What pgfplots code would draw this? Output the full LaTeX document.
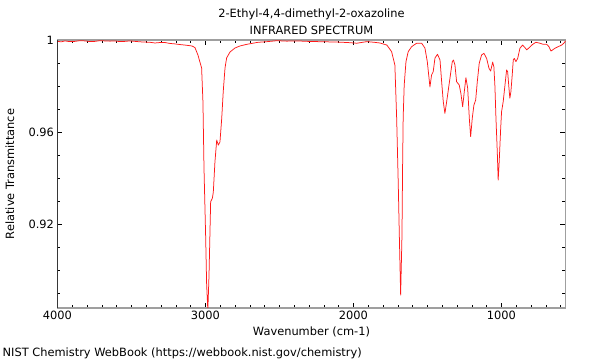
\documentclass[border=0pt]{standalone}
\usepackage{fontspec}
\setmainfont{DejaVu Sans}
\usepackage{pgfplots}
\pgfplotsset{compat=1.18}
\begin{document}
\begin{tikzpicture}[font=\fontsize{11.4bp}{13bp}\selectfont]
\useasboundingbox (0,0) rectangle (600bp,360bp);
\begin{axis}[
  scale only axis, width=508bp, height=268bp,
  at={(57.5bp,52bp)}, anchor=south west,
  x dir=reverse, xmin=567, xmax=4000, ymin=0.8835, ymax=1.0,
  xtick={1000,2000,3000,4000}, minor xtick={600,700,...,3900},
  ytick={0.92,0.96,1}, minor ytick={0.89,0.90,...,0.995},
  yticklabels={0.92,0.96,1},
  /pgf/number format/assume math mode=true,
  /pgf/number format/set thousands separator={},
  tick align=inside, tick style={black, line width=0.6bp},
  major tick length=5bp, minor tick length=3bp,
  axis line style={draw=gray!75, line width=1.3bp},
  xlabel={Wavenumber (cm-1)}, ylabel={Relative Transmittance},
  xlabel style={at={(axis description cs:0.5,0)}, anchor=center, yshift=-24bp},
  ylabel style={at={(axis description cs:0,0.5)}, anchor=center, yshift=47.5bp},
  title style={align=center, at={(axis description cs:0.5,1)}, anchor=south, yshift=-4bp},
  title={2-Ethyl-4,4-dimethyl-2-oxazoline\\[3.5bp]INFRARED SPECTRUM},
  clip=true,
]
\addplot[color=red!90!white, line width=0.75bp, line join=round] coordinates {
(4000,0.9994) (3975,0.9992) (3949,0.9996) (3920,0.9993) (3882,0.9994) (3850,0.9997) (3814,0.9996)
(3780,0.9993) (3747,0.9994) (3715,0.9997) (3679,0.9996) (3645,0.9995) (3611,0.9996) (3580,0.9993)
(3544,0.9994) (3510,0.9996) (3476,0.9994) (3440,0.9992) (3409,0.9991) (3375,0.9990) (3341,0.9987)
(3307,0.9989) (3274,0.9989) (3240,0.9985) (3206,0.9983) (3170,0.9980) (3139,0.9978) (3091,0.9974)
(3071,0.9967) (3051,0.9935) (3026,0.9878) (3017,0.9730) (3010,0.9444) (2999,0.9152) (2992,0.8935)
(2984,0.8825) (2976,0.8978) (2965,0.9297) (2953,0.9313) (2947,0.9339) (2936,0.9470) (2924,0.9565)
(2913,0.9543) (2902,0.9557) (2890,0.9661) (2880,0.9775) (2868,0.9878) (2857,0.9922) (2834,0.9948)
(2801,0.9965) (2767,0.9974) (2722,0.9981) (2645,0.9990) (2580,0.9993) (2517,0.9997) (2450,0.9995)
(2382,0.9996) (2310,0.9994) (2247,0.9993) (2180,0.9992) (2112,0.9991) (2040,0.9989) (1977,0.9986)
(1909,0.9993) (1860,0.9990) (1821,0.9987) (1774,0.9978) (1742,0.9949) (1720,0.9891) (1708,0.9661)
(1697,0.9370) (1690,0.9152) (1681,0.8891) (1672,0.9152) (1668,0.9443) (1664,0.9661) (1657,0.9804)
(1645,0.9906) (1630,0.9949) (1607,0.9971) (1573,0.9986) (1539,0.9986) (1517,0.9965) (1501,0.9906)
(1483,0.9796) (1472,0.9848) (1461,0.9862) (1449,0.9922) (1432,0.9938) (1415,0.9913) (1404,0.9819)
(1393,0.9732) (1382,0.9681) (1370,0.9732) (1348,0.9833) (1332,0.9906) (1324,0.9913) (1314,0.9891)
(1303,0.9819) (1285,0.9804) (1274,0.9768) (1262,0.9710) (1251,0.9775) (1240,0.9836) (1228,0.9790)
(1217,0.9660) (1208,0.9580) (1197,0.9660) (1186,0.9717) (1174,0.9739) (1163,0.9819) (1150,0.9899)
(1134,0.9935) (1118,0.9942) (1100,0.9920) (1084,0.9877) (1073,0.9865) (1059,0.9904) (1051,0.9883)
(1044,0.9800) (1037,0.9661) (1028,0.9514) (1022,0.9391) (1015,0.9471) (1005,0.9616) (999,0.9688)
(988,0.9732) (976,0.9804) (965,0.9870) (958,0.9862) (949,0.9790) (943,0.9747) (936,0.9775)
(927,0.9848) (920,0.9913) (913,0.9920) (902,0.9906) (890,0.9920) (875,0.9964) (857,0.9978)
(841,0.9967) (829,0.9957) (812,0.9967) (789,0.9981) (767,0.9990) (740,0.9986) (717,0.9981)
(694,0.9981) (679,0.9971) (665,0.9952) (654,0.9957) (638,0.9964) (616,0.9971) (593,0.9978)
(578,0.9986) (567,0.9996)
};
\draw[black, line width=0.8bp] (rel axis cs:0,0) -- (rel axis cs:0,1);
\draw[black, line width=0.8bp] (rel axis cs:0,0) -- (rel axis cs:1,0);
\end{axis}
\node[anchor=west, inner sep=0pt] at (2.5bp,7bp) {NIST Chemistry WebBook (https://webbook.nist.gov/chemistry)};
\end{tikzpicture}
\end{document}
